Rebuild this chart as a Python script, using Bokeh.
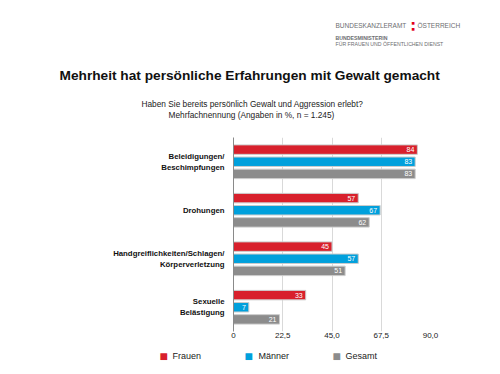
from bokeh.plotting import figure
from bokeh.models import (FactorRange, ColumnDataSource, LabelSet, FixedTicker, Title)
from bokeh.transform import dodge
from bokeh.core.properties import value
from bokeh.embed import file_html
from bokeh.resources import INLINE

# ---- data ----
categories = ["Beleidigungen/\nBeschimpfungen", "Drohungen",
              "Handgreiflichkeiten/Schlagen/\nKörperverletzung", "Sexuelle\nBelästigung"]
series_names = ["Frauen", "Männer", "Gesamt"]
frauen = [84, 57, 45, 33]
maenner = [83, 67, 57, 7]
gesamt = [83, 62, 51, 21]
tick_values = [0, 22.5, 45, 67.5, 90]
tick_labels = ["0", "22,5", "45,0", "67,5", "90,0"]

title_text = "Mehrheit hat persönliche Erfahrungen mit Gewalt gemacht"
subtitle_1 = "Haben Sie bereits persönlich Gewalt und Aggression erlebt?"
subtitle_2 = "Mehrfachnennung (Angaben in %, n = 1.245)"

# ---- style ----
colors = ["#d8202c", "#00a0dc", "#8c8c8c"]
offsets = [0.25, 0.0, -0.25]
FONT = "Liberation Sans"
logo_gray = "#6d6e71"
red_logo = "#e2001a"
W, H = 500, 374
FL, FR, FT, FB = 233, 430, 136, 331   # frame edges in page pixels
ASC, DESC = 0.905, 0.212              # font metrics (em)
SP = 2.0                              # spacer font size

p = figure(width=W, height=H, output_backend="svg", toolbar_location=None,
           y_range=FactorRange(factors=list(reversed(categories))), x_range=(0, 90),
           min_border_left=FL, min_border_right=W - FR, min_border_top=FT,
           min_border_bottom=H - FB)
p.outline_line_color = None

for name, vals, col, off in zip(series_names, [frauen, maenner, gesamt], colors, offsets):
    src = ColumnDataSource(dict(cat=categories, val=vals, lbl=[str(v) for v in vals]))
    p.hbar(y=dodge("cat", off, range=p.y_range), left=0, right="val", height=0.195,
           source=src, fill_color=col, line_color="#cccccc", line_width=1)
    p.add_layout(LabelSet(x="val", y=dodge("cat", off, range=p.y_range), text="lbl",
                          source=src, x_offset=-3, text_align="right",
                          text_baseline="middle", text_color="white",
                          text_font_size="7px", text_font=value(FONT)))

p.xaxis.ticker = FixedTicker(ticks=tick_values)
p.xaxis.major_label_overrides = dict(zip(tick_values, tick_labels))
p.xaxis.axis_line_color = None
p.xaxis.major_tick_line_color = None
p.xaxis.major_tick_out = 0
p.xaxis.minor_tick_line_color = None
p.xaxis.major_label_standoff = 1
p.xaxis.major_label_text_font_size = "8px"
p.xaxis.major_label_text_font = FONT
p.xaxis.major_label_text_color = "#222222"

p.yaxis.axis_line_color = "#8a8a8a"
p.yaxis.major_tick_line_color = None
p.yaxis.major_tick_out = 0
p.yaxis.minor_tick_line_color = None
p.yaxis.major_label_standoff = 9
p.yaxis.major_label_text_font = FONT
p.yaxis.major_label_text_font_style = "bold"
p.yaxis.major_label_text_font_size = "7.8px"
p.yaxis.major_label_text_line_height = 1.2
p.yaxis.major_label_text_color = "#111111"

p.ygrid.grid_line_color = None
p.xgrid.grid_line_color = "#d9d9d9"


def spacer(h):
    return Title(text=" ", text_font_size=f"{SP}px", standoff=h - 2 - (ASC + DESC) * SP)


def row(txt, size, style, color, left):
    # zero-height panel row, text centred on the panel line
    return Title(text=txt, text_font=FONT, text_font_size=f"{size}px",
                 text_font_style=style, text_color=color, align="left",
                 offset=left - FL, vertical_align="middle",
                 standoff=-(2 + (ASC + DESC) * size))


# ---- header texts (page pixels: left x, baseline y) ----
rows = [
    ("■", 5.5, "normal", red_logo, 411, 24.2),
    ("BUNDESKANZLERAMT", 6.5, "normal", logo_gray, 335, 27.3),
    ("ÖSTERREICH", 6.5, "normal", logo_gray, 417, 27.3),
    ("■", 5.5, "normal", red_logo, 411, 30.2),
    ("BUNDESMINISTERIN", 5.2, "bold", logo_gray, 335, 39.3),
    ("FÜR FRAUEN UND ÖFFENTLICHEN DIENST", 5.2, "normal", logo_gray, 335, 45.3),
    (title_text, 13.7, "bold", "#111111", 59, 80.5),
    (subtitle_1, 8.3, "normal", "#222222", 141, 106.5),
    (subtitle_2, 8.3, "normal", "#222222", 168, 116.5),
]
stack = []
prev = 0.0
for txt, size, style, color, left, base in rows:
    center = base - (ASC - DESC) / 2 * size
    if center - prev > 0.01:
        stack.append(spacer(center - prev))
        prev = center
    stack.append(row(txt, size, style, color, left))
stack.append(spacer(FT - prev))
for t in reversed(stack):
    p.add_layout(t, "above")

# ---- legend (swatches + labels) below the axis ----
axis_h = 1 + (ASC + DESC) * 8           # standoff + tick label height
legend_center = 356.4
swatch_x = [159, 244, 332]
label_x = [172, 258, 345]
p.add_layout(spacer(legend_center - FB - axis_h), "below")
for name, col, sx, lx in zip(series_names, colors, swatch_x, label_x):
    p.add_layout(row("■", 14, "normal", col, sx), "below")
    p.add_layout(row(name, 9, "normal", "#222222", lx), "below")
p.add_layout(spacer(H - legend_center), "below")

open("out.html", "w", encoding="utf-8").write(file_html(p, INLINE))
